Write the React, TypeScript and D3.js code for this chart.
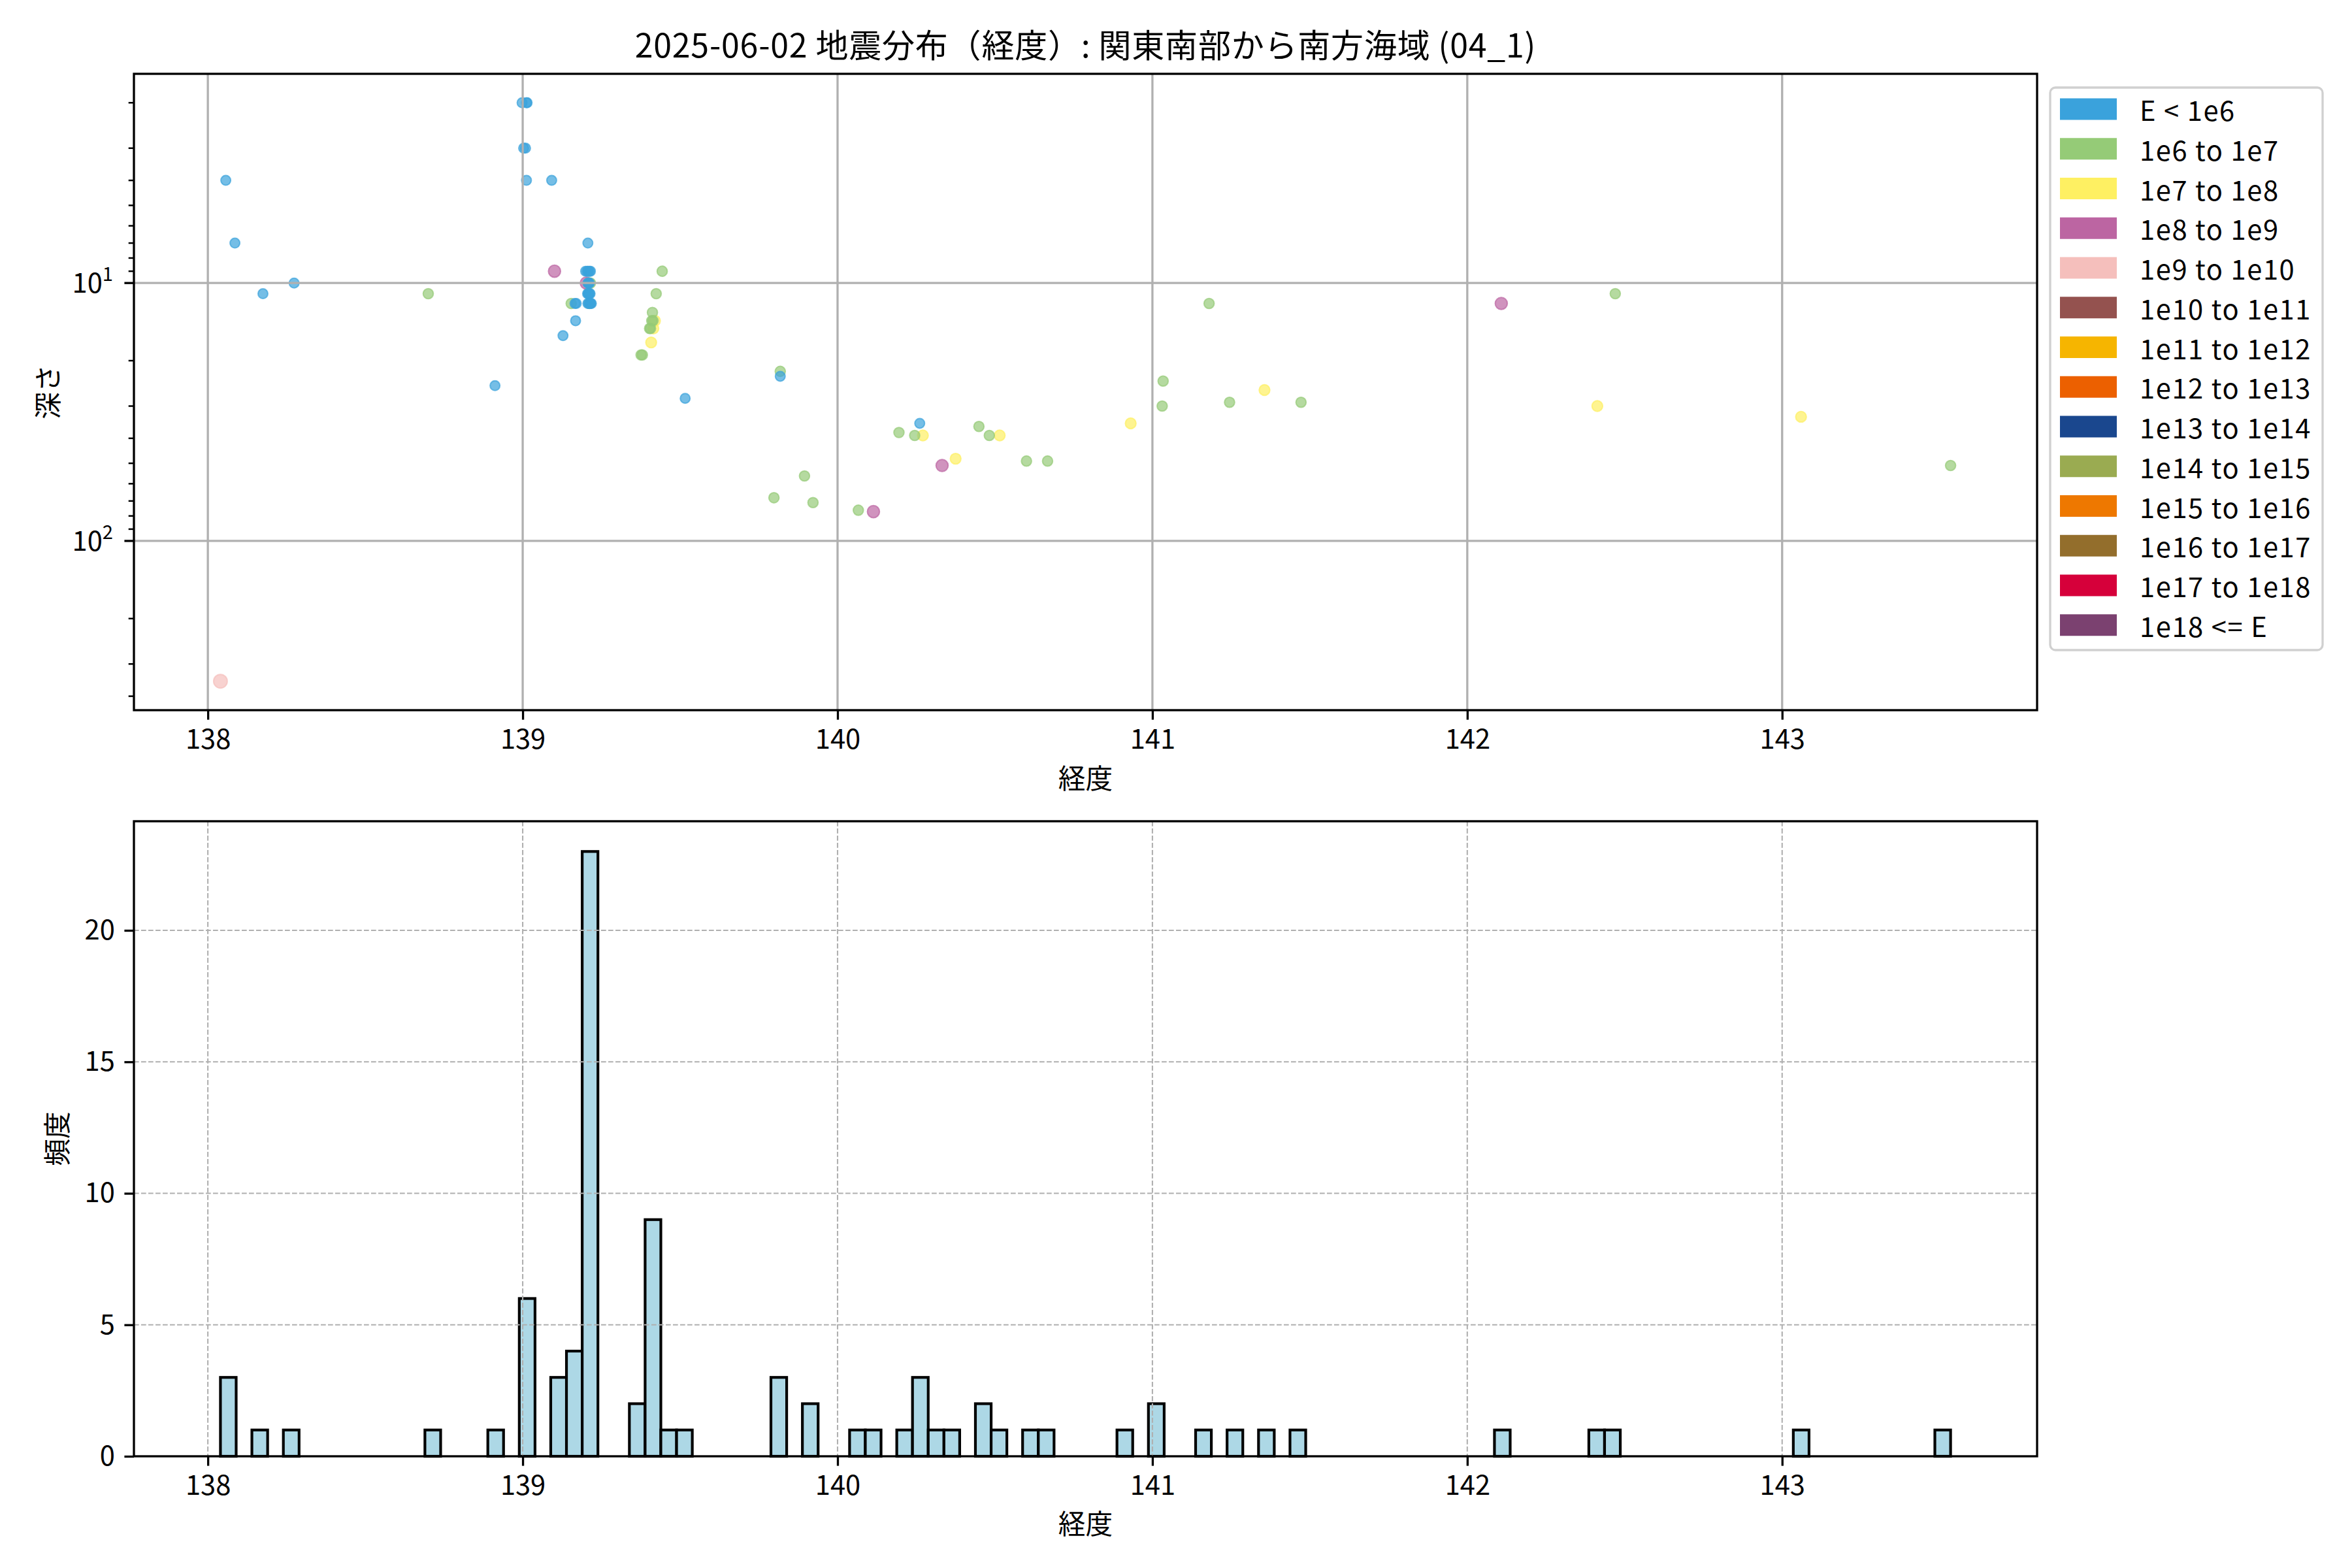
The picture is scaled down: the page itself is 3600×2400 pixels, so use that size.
import { useEffect, useRef } from 'react';
import * as d3 from 'd3';

const title = '2025-06-02 地震分布（経度）: 関東南部から南方海域 (04_1)';

// 経度 (deg E)
const lons = [
  138.040, 138.057, 138.086, 138.175, 138.274, 138.700, 138.912,
  138.998, 139.012, 139.014, 139.003, 139.009, 139.012,
  139.092, 139.101, 139.128,
  139.154, 139.166, 139.170, 139.168,
  139.207,
  139.200, 139.205, 139.208, 139.212, 139.215,
  139.202, 139.207, 139.210, 139.212, 139.215, 139.209,
  139.206, 139.208, 139.210, 139.212, 139.214,
  139.207, 139.210, 139.212, 139.214, 139.216, 139.218,
  139.376, 139.380,
  139.424, 139.412, 139.410, 139.414, 139.420, 139.403, 139.415, 139.408, 139.406,
  139.443, 139.516,
  139.798, 139.818, 139.818, 139.895, 139.922,
  140.066, 140.114, 140.195, 140.245, 140.261, 140.271, 140.332, 140.375,
  140.449, 140.482, 140.515, 140.600, 140.667, 140.931, 141.031, 141.034,
  141.180, 141.245, 141.356, 141.472, 142.108, 142.413, 142.470, 143.060, 143.535,
];

// 深さ (km)
const depths = [
  350, 4, 7, 11, 10, 11, 25,
  2, 2, 2, 3, 3, 4,
  4, 9, 16,
  12, 12, 12, 14,
  7,
  9, 9, 9, 9, 9,
  10, 10, 10, 10, 10, 10,
  11, 11, 11, 11, 11,
  12, 12, 12, 12, 12, 12,
  19, 19,
  11, 13, 14, 14, 14, 15, 15, 17, 15,
  9, 28,
  68, 22, 23, 56, 71,
  76, 77, 38, 39, 35, 39, 51, 48,
  36, 39, 39, 49, 49, 35, 30, 24,
  12, 29, 26, 29, 12, 30, 11, 33, 51,
];

// energy class index (0: E < 1e6, 1: 1e6 to 1e7, ...)
const classes = [
  4, 0, 0, 0, 0, 1, 0,
  0, 0, 0, 0, 0, 0,
  0, 3, 0,
  1, 0, 0, 0,
  0,
  0, 0, 0, 0, 0,
  3, 0, 1, 0, 1, 0,
  0, 0, 0, 0, 0,
  0, 0, 1, 0, 0, 0,
  1, 1,
  1, 1, 1, 1, 2, 1, 2, 2, 1,
  1, 0,
  1, 1, 0, 1, 1,
  1, 3, 1, 1, 0, 2, 3, 2,
  1, 1, 2, 1, 1, 2, 1, 1,
  1, 1, 2, 1, 3, 2, 1, 2, 1,
];

const classLabels = [
  'E < 1e6', '1e6 to 1e7', '1e7 to 1e8', '1e8 to 1e9', '1e9 to 1e10',
  '1e10 to 1e11', '1e11 to 1e12', '1e12 to 1e13', '1e13 to 1e14',
  '1e14 to 1e15', '1e15 to 1e16', '1e16 to 1e17', '1e17 to 1e18', '1e18 <= E',
];

const classColors = [
  '#3aa2dc', '#95cb77', '#fef062', '#bc65a2', '#f5bfbc', '#94524f', '#f6b500',
  '#ec6000', '#1a478e', '#9aab51', '#ee7800', '#936e2c', '#d6003a', '#7b4170',
];

const lonTicks = [138, 139, 140, 141, 142, 143];
const depthTicks = [10, 100];
const countTicks = [0, 5, 10, 15, 20];
const binCount = 110;

export default function App() {
  const svgRef = useRef<SVGSVGElement | null>(null);

  useEffect(() => {
    if (!svgRef.current) return;
    const svg = d3.select(svgRef.current);
    svg.selectAll('*').remove();

    const font = '"Noto Sans CJK JP", "Noto Sans", sans-serif';
    const fs = 41.67;
    const top = { x0: 205, x1: 3118, y0: 113, y1: 1087 };
    const bot = { x0: 205, x1: 3118, y0: 1257, y1: 2229 };
    const cx = (top.x0 + top.x1) / 2;

    svg.append('rect').attr('width', 3600).attr('height', 2400).attr('fill', 'white');

    // scales
    const [lonMin, lonMax] = d3.extent(lons) as [number, number];
    const pad = (lonMax - lonMin) * 0.05;
    const x = d3.scaleLinear().domain([lonMin - pad, lonMax + pad]).range([top.x0, top.x1]);
    const xb = x.copy().range([bot.x0, bot.x1]);

    const [dMin, dMax] = d3.extent(depths) as [number, number];
    const l0 = Math.log10(dMin), l1 = Math.log10(dMax);
    const lpad = (l1 - l0) * 0.05;
    const y = d3.scaleLog().domain([10 ** (l0 - lpad), 10 ** (l1 + lpad)]).range([top.y0, top.y1]);

    const thresholds = d3.range(1, binCount).map(i => lonMin + (i * (lonMax - lonMin)) / binCount);
    const bins = d3.bin().domain([lonMin, lonMax]).thresholds(thresholds)(lons);
    const maxCount = d3.max(bins, b => b.length) || 0;
    const yc = d3.scaleLinear().domain([0, maxCount * 1.05]).range([bot.y1, bot.y0]);

    // ---------- top: scatter ----------
    const g1 = svg.append('g');
    const radius = [7.5, 7.8, 8.2, 9.3, 10.5, 11, 11.5, 12, 12.5, 13, 13.5, 14, 14.5, 15];
    // larger events first so small ones sit on top
    const order = d3.range(lons.length).sort((a, b) => classes[b] - classes[a] || a - b);
    g1.selectAll('circle.pt')
      .data(order)
      .join('circle')
      .attr('class', 'pt')
      .attr('cx', i => x(lons[i]))
      .attr('cy', i => y(depths[i]))
      .attr('r', i => radius[classes[i]])
      .attr('fill', i => classColors[classes[i]])
      .attr('fill-opacity', 0.7)
      .attr('stroke', i => classColors[classes[i]])
      .attr('stroke-opacity', 0.7)
      .attr('stroke-width', 2);

    // grid
    g1.selectAll('line.gx')
      .data(lonTicks)
      .join('line')
      .attr('x1', d => x(d)).attr('x2', d => x(d))
      .attr('y1', top.y0).attr('y2', top.y1)
      .attr('stroke', '#b0b0b0').attr('stroke-width', 3.3);
    g1.selectAll('line.gy')
      .data(depthTicks)
      .join('line')
      .attr('x1', top.x0).attr('x2', top.x1)
      .attr('y1', d => y(d)).attr('y2', d => y(d))
      .attr('stroke', '#b0b0b0').attr('stroke-width', 3.3);

    // x axis
    const ax1 = g1.append('g')
      .attr('transform', `translate(0,${top.y1})`)
      .call(d3.axisBottom(x).tickValues(lonTicks).tickSize(14.6).tickPadding(14.6).tickFormat(d3.format('d')));
    ax1.select('.domain').remove();
    ax1.selectAll('line').attr('stroke', 'black').attr('stroke-width', 3.3);
    ax1.selectAll('text').attr('font-size', fs).attr('font-family', font).attr('fill', 'black');

    // log y axis (inverted)
    const [yd0, yd1] = y.domain();
    const minor = [1, 10, 100, 1000]
      .flatMap(b => d3.range(2, 10).map(m => m * b))
      .filter(v => v >= yd0 && v <= yd1);
    g1.selectAll('line.ymin')
      .data(minor)
      .join('line')
      .attr('x1', top.x0 - 8.3).attr('x2', top.x0)
      .attr('y1', d => y(d)).attr('y2', d => y(d))
      .attr('stroke', 'black').attr('stroke-width', 2.5);
    g1.selectAll('line.ymaj')
      .data(depthTicks)
      .join('line')
      .attr('x1', top.x0 - 14.6).attr('x2', top.x0)
      .attr('y1', d => y(d)).attr('y2', d => y(d))
      .attr('stroke', 'black').attr('stroke-width', 3.3);
    const yl = g1.selectAll('text.ylab')
      .data(depthTicks)
      .join('text')
      .attr('x', top.x0 - 32)
      .attr('y', d => y(d) + 15)
      .attr('text-anchor', 'end')
      .attr('font-family', font)
      .attr('font-size', fs);
    yl.append('tspan').text('10');
    yl.append('tspan')
      .attr('font-size', fs * 0.7)
      .attr('dy', -18)
      .text(d => String(Math.round(Math.log10(d))));

    g1.append('rect')
      .attr('x', top.x0).attr('y', top.y0)
      .attr('width', top.x1 - top.x0).attr('height', top.y1 - top.y0)
      .attr('fill', 'none').attr('stroke', 'black').attr('stroke-width', 3.3);

    g1.append('text')
      .attr('x', cx).attr('y', 88)
      .attr('text-anchor', 'middle')
      .attr('font-family', font).attr('font-size', 50)
      .attr('letter-spacing', 0.8)
      .text(title);
    g1.append('text')
      .attr('x', cx).attr('y', 1207)
      .attr('text-anchor', 'middle')
      .attr('font-family', font).attr('font-size', fs)
      .text('経度');
    g1.append('text')
      .attr('transform', `translate(71,${(top.y0 + top.y1) / 2}) rotate(-90)`)
      .attr('text-anchor', 'middle')
      .attr('dominant-baseline', 'central')
      .attr('font-family', font).attr('font-size', fs)
      .text('深さ');

    // legend
    const lg = svg.append('g');
    lg.append('rect')
      .attr('x', 3138).attr('y', 134).attr('width', 417).attr('height', 861).attr('rx', 8)
      .attr('fill', 'white').attr('stroke', '#d0d0d0').attr('stroke-width', 3.3);
    const row = lg.selectAll('g.item')
      .data(classLabels)
      .join('g')
      .attr('transform', (_, i) => `translate(0,${167 + i * 60.75})`);
    row.append('rect')
      .attr('x', 3153).attr('y', -16.5).attr('width', 87).attr('height', 33)
      .attr('fill', (_, i) => classColors[i]);
    row.append('text')
      .attr('x', 3275).attr('y', 0)
      .attr('dominant-baseline', 'central')
      .attr('font-family', font).attr('font-size', fs)
      .attr('letter-spacing', 1.6)
      .text(d => d);

    // ---------- bottom: histogram ----------
    const g2 = svg.append('g');
    g2.selectAll('rect.bar')
      .data(bins.filter(b => b.length > 0))
      .join('rect')
      .attr('class', 'bar')
      .attr('x', b => xb(b.x0 as number))
      .attr('y', b => yc(b.length))
      .attr('width', b => xb(b.x1 as number) - xb(b.x0 as number))
      .attr('height', b => yc(0) - yc(b.length))
      .attr('fill', '#add8e6')
      .attr('stroke', 'black')
      .attr('stroke-width', 4.17);

    g2.selectAll('line.hx')
      .data(lonTicks)
      .join('line')
      .attr('x1', d => xb(d)).attr('x2', d => xb(d))
      .attr('y1', bot.y0).attr('y2', bot.y1)
      .attr('stroke', '#b0b0b0').attr('stroke-width', 2.1).attr('stroke-dasharray', '7.7,3.3');
    g2.selectAll('line.hy')
      .data(countTicks.filter(d => d > 0))
      .join('line')
      .attr('x1', bot.x0).attr('x2', bot.x1)
      .attr('y1', d => yc(d)).attr('y2', d => yc(d))
      .attr('stroke', '#b0b0b0').attr('stroke-width', 2.1).attr('stroke-dasharray', '7.7,3.3');

    const ax2 = g2.append('g')
      .attr('transform', `translate(0,${bot.y1})`)
      .call(d3.axisBottom(xb).tickValues(lonTicks).tickSize(14.6).tickPadding(14.6).tickFormat(d3.format('d')));
    const ay2 = g2.append('g')
      .attr('transform', `translate(${bot.x0},0)`)
      .call(d3.axisLeft(yc).tickValues(countTicks).tickSize(14.6).tickPadding(14.6).tickFormat(d3.format('d')));
    [ax2, ay2].forEach(a => {
      a.select('.domain').remove();
      a.selectAll('line').attr('stroke', 'black').attr('stroke-width', 3.3);
      a.selectAll('text').attr('font-size', fs).attr('font-family', font).attr('fill', 'black');
    });

    g2.append('rect')
      .attr('x', bot.x0).attr('y', bot.y0)
      .attr('width', bot.x1 - bot.x0).attr('height', bot.y1 - bot.y0)
      .attr('fill', 'none').attr('stroke', 'black').attr('stroke-width', 3.3);

    g2.append('text')
      .attr('x', cx).attr('y', 2348)
      .attr('text-anchor', 'middle')
      .attr('font-family', font).attr('font-size', fs)
      .text('経度');
    g2.append('text')
      .attr('transform', `translate(85,${(bot.y0 + bot.y1) / 2}) rotate(-90)`)
      .attr('text-anchor', 'middle')
      .attr('dominant-baseline', 'central')
      .attr('font-family', font).attr('font-size', fs)
      .text('頻度');
  }, []);

  return (
    <svg
      ref={svgRef}
      width={3600}
      height={2400}
      style={{ position: 'absolute', left: 0, top: 0, display: 'block' }}
    ></svg>
  );
}
